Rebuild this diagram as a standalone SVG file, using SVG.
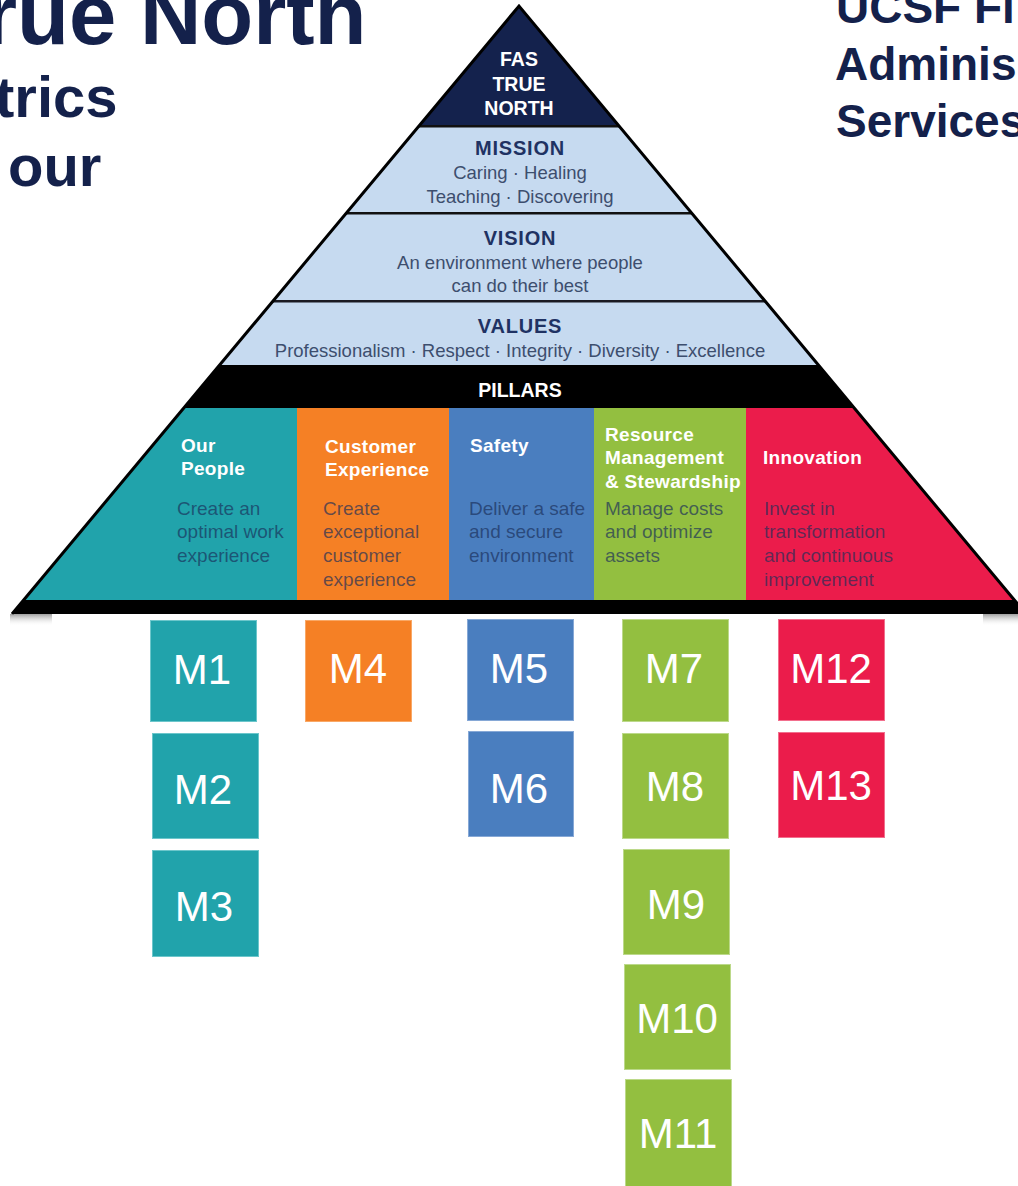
<svg xmlns="http://www.w3.org/2000/svg" width="1018" height="1186" viewBox="0 0 1018 1186">
<style>
.title{font-family:"Liberation Sans",Arial,sans-serif;font-weight:bold;fill:#14214b}
.band{font-family:"Liberation Sans",Arial,sans-serif;font-weight:bold;font-size:20px;fill:#1f3263;text-anchor:middle;letter-spacing:0.8px}
.bandtxt{font-family:"Liberation Sans",Arial,sans-serif;font-size:18.5px;fill:#3d4e6e;text-anchor:middle}
.top{font-family:"Liberation Sans",Arial,sans-serif;font-weight:bold;font-size:19.5px;fill:#ffffff;text-anchor:middle}
.ph{font-family:"Liberation Sans",Arial,sans-serif;font-weight:bold;font-size:19px;fill:#ffffff;letter-spacing:0.3px}
.pd{font-family:"Liberation Sans",Arial,sans-serif;font-size:19px;fill:#1a2f5a;fill-opacity:0.68}
.m{font-family:"Liberation Sans",Arial,sans-serif;font-size:42px;fill:#ffffff;text-anchor:middle}
.teal{fill:#21a3ab;stroke:#6cc6cb;stroke-width:1}
.orange{fill:#f58025;stroke:#f9a866;stroke-width:1}
.blue{fill:#4a7ebf;stroke:#86a8d6;stroke-width:1}
.green{fill:#93bf40;stroke:#bcd98a;stroke-width:1}
.red{fill:#eb1c4b;stroke:#f26f8d;stroke-width:1}
</style>
<defs>
<clipPath id="tri"><polygon points="519,7 12,614 1026,614"/></clipPath>
<linearGradient id="shadow" x1="0" y1="0" x2="0" y2="1">
<stop offset="0" stop-color="#777" stop-opacity="0.7"/>
<stop offset="1" stop-color="#fff" stop-opacity="0"/>
</linearGradient>
</defs>
<rect width="1018" height="1186" fill="#ffffff"/>

<g id="title">
<text class="title" x="-16" y="44" font-size="85">rue North</text>
<text class="title" x="-5" y="117" font-size="58">trics</text>
<text class="title" x="8" y="186" font-size="58">our</text>
</g>
<g id="org-title">
<text class="title" x="836" y="23" font-size="46">UCSF Fi</text>
<text class="title" x="835" y="80" font-size="46">Adminis</text>
<text class="title" x="836" y="137" font-size="46">Services</text>
</g>

<g id="pyramid">
<g clip-path="url(#tri)">
<rect x="0" y="0" width="1018" height="127" fill="#14224d"/>
<rect x="0" y="127" width="1018" height="238" fill="#c6daf0"/>
<rect x="0" y="125" width="1018" height="2.5" fill="#111"/>
<rect x="0" y="212" width="1018" height="2.5" fill="#111"/>
<rect x="0" y="300" width="1018" height="2.5" fill="#1a1a22"/>
<rect x="0" y="365" width="1018" height="43" fill="#000"/>
<rect x="0" y="408" width="297" height="192" fill="#21a3ab"/>
<rect x="297" y="408" width="152" height="192" fill="#f58025"/>
<rect x="449" y="408" width="145" height="192" fill="#4a7ebf"/>
<rect x="594" y="408" width="152" height="192" fill="#93bf40"/>
<rect x="746" y="408" width="280" height="192" fill="#eb1c4b"/>
<rect x="0" y="600" width="1026" height="14" fill="#000"/>
</g>
<polyline points="12,614 519,6 1026,614" fill="none" stroke="#000" stroke-width="3" stroke-linejoin="miter"/>
<rect x="10" y="614" width="42" height="12" fill="url(#shadow)"/>
<rect x="983" y="614" width="35" height="12" fill="url(#shadow)"/>
</g>

<g id="fas-true-north">
<text class="top" x="519" y="66">FAS</text>
<text class="top" x="519" y="91">TRUE</text>
<text class="top" x="519" y="115">NORTH</text>
</g>
<g id="mission">
<text class="band" x="520" y="155">MISSION</text>
<text class="bandtxt" x="520" y="179">Caring · Healing</text>
<text class="bandtxt" x="520" y="203">Teaching · Discovering</text>
</g>
<g id="vision">
<text class="band" x="520" y="245">VISION</text>
<text class="bandtxt" x="520" y="269">An environment where people</text>
<text class="bandtxt" x="520" y="292">can do their best</text>
</g>
<g id="values">
<text class="band" x="520" y="333">VALUES</text>
<text class="bandtxt" x="520" y="357" font-size="18.8">Professionalism · Respect · Integrity · Diversity · Excellence</text>
</g>
<g id="pillars">
<text class="top" x="520" y="397" font-size="20">PILLARS</text>
</g>

<g id="pillar-our-people">
<text class="ph" x="181" y="452">Our</text>
<text class="ph" x="181" y="475">People</text>
<text class="pd" x="177" y="515">Create an</text>
<text class="pd" x="177" y="538">optimal work</text>
<text class="pd" x="177" y="562">experience</text>
</g>
<g id="pillar-customer-experience">
<text class="ph" x="325" y="453">Customer</text>
<text class="ph" x="325" y="476">Experience</text>
<text class="pd" x="323" y="515">Create</text>
<text class="pd" x="323" y="538">exceptional</text>
<text class="pd" x="323" y="562">customer</text>
<text class="pd" x="323" y="586">experience</text>
</g>
<g id="pillar-safety">
<text class="ph" x="470" y="452">Safety</text>
<text class="pd" x="469" y="515" font-size="18.5">Deliver a safe</text>
<text class="pd" x="469" y="538" font-size="18.5">and secure</text>
<text class="pd" x="469" y="562" font-size="18.5">environment</text>
</g>
<g id="pillar-resource">
<text class="ph" x="605" y="441">Resource</text>
<text class="ph" x="605" y="464">Management</text>
<text class="ph" x="605" y="488">&amp; Stewardship</text>
<text class="pd" x="605" y="515">Manage costs</text>
<text class="pd" x="605" y="538">and optimize</text>
<text class="pd" x="605" y="562">assets</text>
</g>
<g id="pillar-innovation">
<text class="ph" x="763" y="464">Innovation</text>
<text class="pd" x="764" y="515">Invest in</text>
<text class="pd" x="764" y="538">transformation</text>
<text class="pd" x="764" y="562">and continuous</text>
<text class="pd" x="764" y="586">improvement</text>
</g>

<g id="connectors"/>

<g id="M1"><rect class="teal" x="150.5" y="620.5" width="106" height="101"/><text class="m" x="202" y="684">M1</text></g>
<g id="M2"><rect class="teal" x="152.5" y="733.5" width="106" height="105"/><text class="m" x="203" y="804">M2</text></g>
<g id="M3"><rect class="teal" x="152.5" y="850.5" width="106" height="106"/><text class="m" x="204" y="921">M3</text></g>
<g id="M4"><rect class="orange" x="305.5" y="620.5" width="106" height="101"/><text class="m" x="358" y="683">M4</text></g>
<g id="M5"><rect class="blue" x="467.5" y="619.5" width="106" height="101"/><text class="m" x="519" y="683">M5</text></g>
<g id="M6"><rect class="blue" x="468.5" y="731.5" width="105" height="105"/><text class="m" x="519" y="803">M6</text></g>
<g id="M7"><rect class="green" x="622.5" y="619.5" width="106" height="102"/><text class="m" x="674" y="683">M7</text></g>
<g id="M8"><rect class="green" x="622.5" y="733.5" width="106" height="105"/><text class="m" x="675" y="801">M8</text></g>
<g id="M9"><rect class="green" x="623.5" y="849.5" width="106" height="105"/><text class="m" x="676" y="919">M9</text></g>
<g id="M10"><rect class="green" x="624.5" y="964.5" width="106" height="105"/><text class="m" x="677" y="1033">M10</text></g>
<g id="M11"><rect class="green" x="625.5" y="1079.5" width="106" height="110"/><text class="m" x="678" y="1148">M11</text></g>
<g id="M12"><rect class="red" x="778.5" y="619.5" width="106" height="101"/><text class="m" x="831" y="683">M12</text></g>
<g id="M13"><rect class="red" x="778.5" y="732.5" width="106" height="105"/><text class="m" x="831" y="800">M13</text></g>
</svg>
